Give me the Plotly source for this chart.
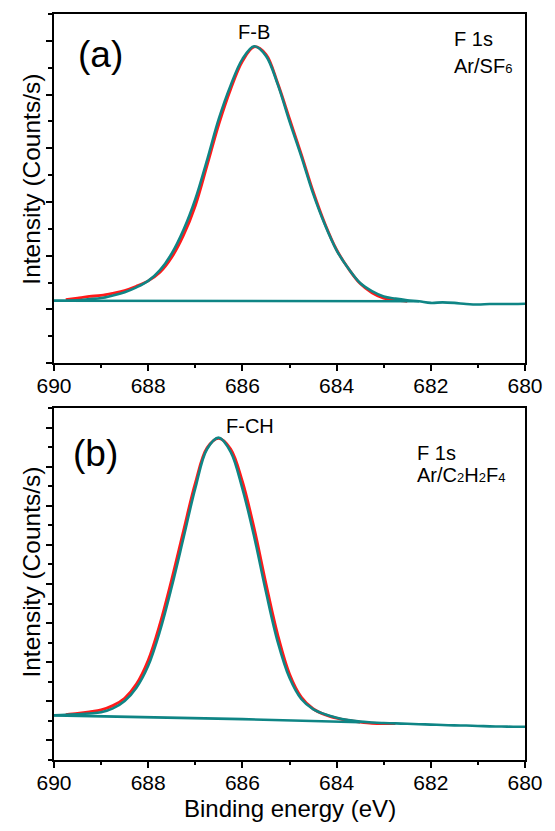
import plotly.graph_objects as go

# ---------------- data ----------------
energy = [690.0, 689.75, 689.5, 689.25, 689.0, 688.75, 688.5, 688.25, 688.0, 687.75,
          687.5, 687.25, 687.0, 686.75, 686.5, 686.25, 686.0, 685.75, 685.5, 685.25,
          685.0, 684.75, 684.5, 684.25, 684.0, 683.75, 683.5, 683.25, 683.0, 682.75,
          682.5, 682.25, 682.0, 681.75, 681.5, 681.25, 681.0, 680.75, 680.5, 680.25, 680.0]

# panel (a) Ar/SF6 : fitted envelope (teal)
fit_a = [1.16, 1.16, 1.17, 1.19, 1.21, 1.26, 1.32, 1.41, 1.53, 1.73,
         2.04, 2.48, 3.05, 3.78, 4.55, 5.17, 5.66, 5.90, 5.72, 5.19,
         4.50, 3.85, 3.16, 2.58, 2.10, 1.76, 1.49, 1.34, 1.24, 1.20,
         1.17, 1.15, 1.12, 1.13, 1.12, 1.10, 1.09, 1.10, 1.10, 1.10, 1.105]
# panel (a) raw data (red)
raw_energy_a = energy[1:31]
raw_a = [1.18, 1.21, 1.24, 1.26, 1.30, 1.35, 1.43, 1.53, 1.69,
         1.97, 2.38, 2.93, 3.68, 4.45, 5.10, 5.62, 5.89, 5.75, 5.21,
         4.55, 3.89, 3.20, 2.60, 2.11, 1.76, 1.48, 1.31, 1.21, 1.17, 1.15]
# panel (a) background
bg_energy_a = [690.0, 686.0, 682.25]
bg_a = [1.16, 1.155, 1.15]

# panel (b) Ar/C2H2F4 : fitted envelope (teal)
fit_b = [0.645, 0.655, 0.67, 0.69, 0.72, 0.82, 1.01, 1.35, 1.91, 2.80,
         3.93, 5.18, 6.45, 7.45, 7.74, 7.38, 6.44, 5.21, 3.80, 2.52,
         1.60, 1.06, 0.80, 0.67, 0.58, 0.52, 0.48, 0.46, 0.445, 0.435,
         0.425, 0.415, 0.405, 0.395, 0.385, 0.38, 0.37, 0.36, 0.355, 0.35, 0.35]
raw_energy_b = energy[1:30]
raw_b = [0.66, 0.69, 0.73, 0.78, 0.89, 1.08, 1.44, 2.05, 2.98,
         4.12, 5.36, 6.58, 7.48, 7.72, 7.45, 6.62, 5.42, 4.01, 2.70,
         1.70, 1.11, 0.81, 0.66, 0.57, 0.51, 0.47, 0.44, 0.43, 0.43]
bg_energy_b = [690.0, 686.0, 683.5]
bg_b = [0.64, 0.545, 0.465]

x_ticks = [690, 688, 686, 684, 682, 680]

# ---------------- styling ----------------
OFF = 8  # default body margin of the html page
W, H = 555 - 2 * OFF, 831 - 2 * OFF
ML, MT = 54 - OFF, 12 - OFF
MR = W - (527 - OFF)
MB = H - (760 - OFF)
PW, PH = W - ML - MR, H - MT - MB
FONT = "Arial, Liberation Sans, sans-serif"
RED = "#FF1A1A"
TEAL = "#0F8585"


def px(xp):
    return (xp - OFF - ML) / PW


def py(yp):
    return (H - MB - (yp - OFF)) / PH


fig = go.Figure()

for xa, ya, e_raw, v_raw, v_fit, e_bg, v_bg in [
    ("x", "y", raw_energy_a, raw_a, fit_a, bg_energy_a, bg_a),
    ("x2", "y2", raw_energy_b, raw_b, fit_b, bg_energy_b, bg_b),
]:
    fig.add_trace(go.Scatter(x=e_raw, y=v_raw, mode="lines", line=dict(color=RED, width=2.8, shape="spline"),
                             xaxis=xa, yaxis=ya, showlegend=False, hoverinfo="skip"))
    fig.add_trace(go.Scatter(x=e_bg, y=v_bg, mode="lines", line=dict(color=TEAL, width=2.6),
                             xaxis=xa, yaxis=ya, showlegend=False, hoverinfo="skip"))
    fig.add_trace(go.Scatter(x=energy, y=v_fit, mode="lines", line=dict(color=TEAL, width=2.6, shape="spline"),
                             xaxis=xa, yaxis=ya, showlegend=False, hoverinfo="skip"))

xcommon = dict(range=[690, 680], tickvals=x_ticks, ticktext=[str(t) for t in x_ticks],
               ticks="outside", ticklen=6, tickwidth=1.5, tickcolor="black", ticklabelstandoff=-3,
               minor=dict(ticks="outside", dtick=1, tick0=680, ticklen=3.5, tickwidth=1.5, tickcolor="black"),
               showline=True, linecolor="black", linewidth=1.5, mirror=True,
               showgrid=False, zeroline=False,
               tickfont=dict(family=FONT, size=21, color="black"))
ycommon = dict(ticks="outside", ticklen=6.5, tickwidth=1.5, tickcolor="black", dtick=1, tick0=0,
               minor=dict(ticks="outside", dtick=0.5, tick0=0, ticklen=4.5, tickwidth=1.5, tickcolor="black"),
               showline=True, linecolor="black", linewidth=1.5, mirror=True,
               showgrid=False, zeroline=False, showticklabels=False)

top_dom = [py(362), 1.0]
bot_dom = [0.0, py(407)]

fig.update_layout(
    width=W, height=H,
    margin=dict(l=ML, r=MR, t=MT, b=MB),
    paper_bgcolor="white", plot_bgcolor="white",
    font=dict(family=FONT, color="black"),
    xaxis=dict(**xcommon, anchor="y", domain=[0, 1]),
    yaxis=dict(**ycommon, range=[0, 6.5], anchor="x", domain=top_dom),
    xaxis2=dict(**xcommon, anchor="y2", domain=[0, 1]),
    yaxis2=dict(**ycommon, range=[-0.5, 8.5], anchor="x2", domain=bot_dom),
)

anns = [
    ("(a)", 101, 53, 37, "center", 0),
    ("F-B", 255, 30, 20, "center", 0),
    ("F 1s", 454, 37, 20, "left", 0),
    ("Ar/SF<span style=\"font-size:13px\">6</span>", 454, 64, 20, "left", 0),
    ("(b)", 96, 453, 37, "center", 0),
    ("F-CH", 251, 425, 20, "center", 0),
    ("F 1s", 417, 452, 20, "left", 0),
    ("Ar/C<span style=\"font-size:13px\">2</span>H<span style=\"font-size:13px\">2</span>F<span style=\"font-size:13px\">4</span>",
     417, 474, 20, "left", 0),
    ("Intensity (Counts/s)", 31, 178, 24.5, "center", -90),
    ("Intensity (Counts/s)", 31, 572, 24.5, "center", -90),
]
for text, xp, yp, size, xanchor, ang in anns:
    fig.add_annotation(text=text, x=px(xp), y=py(yp), xref="paper", yref="paper",
                       xanchor=xanchor, yanchor="middle", showarrow=False, textangle=ang,
                       font=dict(family=FONT, size=size, color="black"))

# x-axis title: anchored at its bottom so it stays inside the page
fig.add_annotation(text="Binding energy (eV)", x=px(291), y=py(823), xref="paper", yref="paper",
                   xanchor="center", yanchor="bottom", showarrow=False, borderpad=0,
                   font=dict(family=FONT, size=24, color="black"))

fig.write_html("out.html")
